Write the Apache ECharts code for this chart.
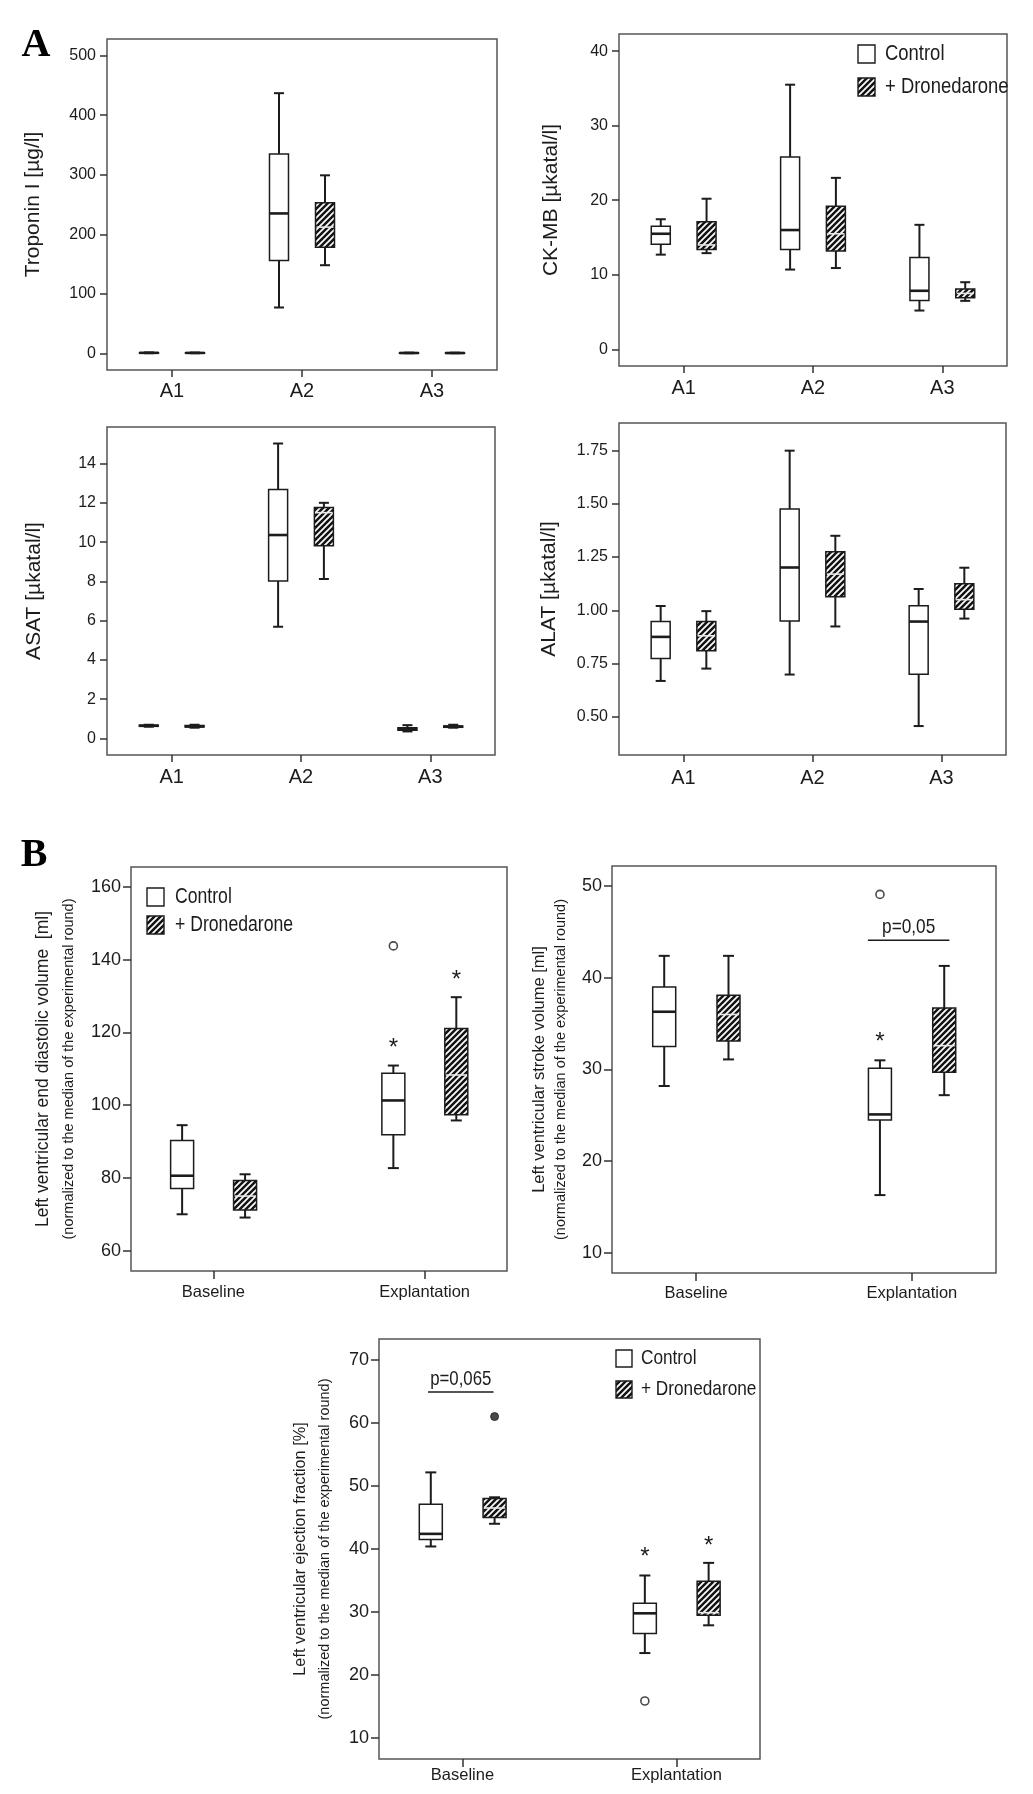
<!DOCTYPE html>
<html>
<head>
<meta charset="utf-8">
<script src="https://cdn.jsdelivr.net/npm/echarts@6/dist/echarts.min.js"></script>
<style>
  html, body { margin: 0; padding: 0; background: #fff; }
  #chart { width: 1033px; height: 1794px; }
</style>
</head>
<body>
<div id="chart"></div>
<script>
// ---------------- DATA ----------------
// Panel A: sampling points
const groupsA = ['A1', 'A2', 'A3'];
// each box: [lower whisker, Q1, median, Q3, upper whisker]
const troponinControl = [[0.2, 0.5, 0.8, 1.1, 1.5], [77, 156, 235, 335, 437], [0.2, 0.4, 0.6, 0.9, 1.2]];
const troponinDrone   = [[0.2, 0.4, 0.7, 1.0, 1.3], [148, 178, 212, 253, 299], [0.2, 0.4, 0.6, 0.8, 1.1]];
const troponinTicks   = [0, 100, 200, 300, 400, 500];

const ckmbControl = [[12.7, 14.1, 15.5, 16.5, 17.45], [10.7, 13.4, 16.0, 25.8, 35.5], [5.2, 6.55, 7.85, 12.3, 16.7]];
const ckmbDrone   = [[12.9, 13.4, 14.0, 17.1, 20.2], [10.9, 13.2, 15.5, 19.2, 23.0], [6.5, 6.9, 7.5, 8.1, 9.0]];
const ckmbTicks   = [0, 10, 20, 30, 40];

const asatControl = [[0.6, 0.62, 0.65, 0.68, 0.7], [5.69, 8.02, 10.36, 12.68, 15.02], [0.36, 0.42, 0.47, 0.55, 0.68]];
const asatDrone   = [[0.55, 0.58, 0.62, 0.66, 0.7], [8.12, 9.81, 11.5, 11.76, 12.0], [0.55, 0.57, 0.6, 0.64, 0.7]];
const asatTicks   = [0, 2, 4, 6, 8, 10, 12, 14];

const alatControl = [[0.668, 0.773, 0.875, 0.947, 1.02], [0.698, 0.95, 1.201, 1.476, 1.75], [0.456, 0.70, 0.947, 1.021, 1.10]];
const alatDrone   = [[0.726, 0.81, 0.88, 0.947, 0.996], [0.924, 1.063, 1.17, 1.275, 1.35], [0.961, 1.005, 1.05, 1.125, 1.20]];
const alatTicks   = [0.5, 0.75, 1.0, 1.25, 1.5, 1.75];

// Panel B: phases
const phasesB = ['Baseline', 'Explantation'];

const edvControl = [[70.0, 77.1, 80.6, 90.3, 94.5], [82.7, 91.9, 101.3, 108.8, 110.9]];
const edvDrone   = [[69.1, 71.2, 75.0, 79.3, 81.0], [95.8, 97.4, 108.3, 121.1, 129.7]];
const edvControlOutliers = [[2, 143.8]];
const edvStars   = [[2, 117.4, 0], [2, 135.9, 1]];   // [phase, value, group 0=control 1=drone]
const edvTicks   = [60, 80, 100, 120, 140, 160];

const svControl = [[28.2, 32.5, 36.3, 39.0, 42.4], [16.3, 24.5, 25.1, 30.15, 31.0]];
const svDrone   = [[31.1, 33.1, 36.0, 38.1, 42.4], [27.2, 29.7, 32.6, 36.7, 41.3]];
const svControlOutliers = [[2, 49.1]];
const svStars   = [[2, 33.6, 0]];
const svBracket = [[1.796, 2.174, 44.1, 'p=0,05']];
const svTicks   = [10, 20, 30, 40, 50];

const efControl = [[40.4, 41.5, 42.4, 47.1, 52.15], [23.5, 26.6, 29.8, 31.4, 35.8]];
const efDrone   = [[44.0, 45.0, 46.5, 48.0, 48.2], [27.9, 29.5, 29.9, 34.9, 37.8]];
const efControlOutliers = [[2, 15.9]];
const efDroneExtremes   = [[1, 61.0]];
const efStars   = [[2, 39.7, 0], [2, 41.4, 1]];
const efBracket = [[0.839, 1.145, 64.9, 'p=0,065']];
const efTicks   = [10, 20, 30, 40, 50, 60, 70];

// ---------------- STYLE ----------------
const REG = '"Liberation Sans", Arial, sans-serif';
const NARROW_SCALE = 0.82;
const INK = '#1c1c1c';

// hatch pattern
function makeHatch() {
  const s = 6;
  const c = document.createElement('canvas');
  c.width = s; c.height = s;
  const g = c.getContext('2d');
  g.fillStyle = '#141414';
  g.fillRect(0, 0, s, s);
  g.strokeStyle = '#ffffff';
  g.lineWidth = 1.7;
  g.beginPath();
  g.moveTo(-1, s + 1); g.lineTo(s + 1, -1);
  g.moveTo(-1, 1); g.lineTo(1, -1);
  g.moveTo(s - 1, s + 1); g.lineTo(s + 1, s - 1);
  g.stroke();
  return { image: c, repeat: 'repeat' };
}
const HATCH = makeHatch();

const chart = echarts.init(document.getElementById('chart'), null, { renderer: 'canvas' });

const grids = [
  { left: 107, top: 39, width: 390, height: 331 },
  { left: 619, top: 34, width: 388, height: 332 },
  { left: 107, top: 427, width: 388, height: 328 },
  { left: 619, top: 423, width: 387, height: 332 },
  { left: 131, top: 867, width: 376, height: 404 },
  { left: 612, top: 866, width: 384, height: 407 },
  { left: 379, top: 1339, width: 381, height: 420 }
];

function boxRenderer(offset, boxW, capW, hatched) {
  return function (params, api) {
    const x = api.value(0) + offset;
    const lo = api.coord([x, api.value(1)]);
    const q1 = api.coord([x, api.value(2)]);
    const md = api.coord([x, api.value(3)]);
    const q3 = api.coord([x, api.value(4)]);
    const hi = api.coord([x, api.value(5)]);
    const cx = lo[0];
    const ws = { stroke: INK, lineWidth: 2 };
    const h = q1[1] - q3[1];
    const children = [
      { type: 'line', shape: { x1: cx, y1: q3[1], x2: cx, y2: hi[1] }, style: ws },
      { type: 'line', shape: { x1: cx, y1: q1[1], x2: cx, y2: lo[1] }, style: ws },
      { type: 'line', shape: { x1: cx - capW / 2, y1: hi[1], x2: cx + capW / 2, y2: hi[1] }, style: ws },
      { type: 'line', shape: { x1: cx - capW / 2, y1: lo[1], x2: cx + capW / 2, y2: lo[1] }, style: ws },
      { type: 'rect', shape: { x: cx - boxW / 2, y: q3[1], width: boxW, height: Math.max(h, 0.5) },
        style: { fill: hatched ? HATCH : '#ffffff', stroke: INK, lineWidth: 1.5 } }
    ];
    if (hatched && h > 6) {
      children.push({ type: 'line', shape: { x1: cx - boxW / 2 + 1, y1: md[1], x2: cx + boxW / 2 - 1, y2: md[1] },
        style: { stroke: '#e8e8e8', lineWidth: 1.6 } });
    } else {
      children.push({ type: 'line', shape: { x1: cx - boxW / 2, y1: md[1], x2: cx + boxW / 2, y2: md[1] },
        style: { stroke: INK, lineWidth: 2.6 } });
    }
    return { type: 'group', children };
  };
}

const xAxes = [], yAxes = [], series = [];

function addPanel(i, cfg) {
  const cats = cfg.cats;
  const catVals = cats.map((c, k) => k + 1);
  xAxes.push({
    type: 'value', gridIndex: i, min: cfg.xMin, max: cfg.xMax,
    axisLine: { show: false, onZero: false },
    splitLine: { show: false },
    axisTick: { show: true, length: cfg.tickLen, customValues: catVals, lineStyle: { color: '#333', width: 1.5 } },
    axisLabel: { show: true, customValues: catVals, formatter: v => cats[Math.round(v) - 1] || '',
      fontSize: cfg.catSize, fontFamily: REG, color: INK, margin: cfg.xMargin }
  });
  yAxes.push({
    type: 'value', gridIndex: i, min: cfg.yMin, max: cfg.yMax,
    axisLine: { show: false, onZero: false },
    splitLine: { show: false },
    axisTick: { show: true, length: cfg.tickLen, customValues: cfg.yTicks, lineStyle: { color: '#333', width: 1.5 } },
    axisLabel: { show: true, customValues: cfg.yTicks, formatter: cfg.yFmt || (v => String(v)),
      fontSize: cfg.tickSize, fontFamily: REG, color: INK, margin: cfg.yMargin },
    name: cfg.yName, nameLocation: 'middle', nameRotate: 90, nameGap: cfg.nameGap,
    nameTextStyle: cfg.nameStyle
  });
  const base = { xAxisIndex: i, yAxisIndex: i, silent: true, animation: false, z: 3 };
  series.push(Object.assign({}, base, {
    type: 'custom', name: 'Control',
    renderItem: boxRenderer(cfg.offC, cfg.boxW, cfg.capW, false),
    encode: { x: 0, y: [1, 2, 3, 4, 5] },
    data: cfg.ctrl.map((b, k) => [k + 1].concat(b))
  }));
  series.push(Object.assign({}, base, {
    type: 'custom', name: '+ Dronedarone',
    renderItem: boxRenderer(cfg.offD, cfg.boxW, cfg.capW, true),
    encode: { x: 0, y: [1, 2, 3, 4, 5] },
    data: cfg.drug.map((b, k) => [k + 1].concat(b))
  }));
  if (cfg.openOut) {
    series.push(Object.assign({}, base, {
      type: 'scatter', symbol: 'circle', symbolSize: 8,
      itemStyle: { color: '#fff', borderColor: INK, borderWidth: 1.6 },
      data: cfg.openOut.map(([c, v]) => [c + cfg.offC, v])
    }));
  }
  if (cfg.filledOut) {
    series.push(Object.assign({}, base, {
      type: 'scatter', symbol: 'circle', symbolSize: 8,
      itemStyle: { color: INK, borderColor: INK, borderWidth: 1 },
      data: cfg.filledOut.map(([c, v]) => [c + cfg.offD, v])
    }));
  }
  if (cfg.stars) {
    series.push(Object.assign({}, base, {
      type: 'custom',
      encode: { x: 0, y: 1 },
      data: cfg.stars,
      renderItem: function (params, api) {
        const off = api.value(2) ? cfg.offD : cfg.offC;
        const p = api.coord([api.value(0) + off, api.value(1)]);
        return { type: 'text', x: p[0], y: p[1] + 6,
          style: { text: '*', fontSize: 24, fontFamily: REG, fill: INK, align: 'center', verticalAlign: 'middle' } };
      }
    }));
  }
  if (cfg.bracket) {
    series.push(Object.assign({}, base, {
      type: 'custom',
      encode: { x: [0, 1], y: 2 },
      data: cfg.bracket,
      renderItem: function (params, api) {
        const a = api.coord([api.value(0), api.value(2)]);
        const b = api.coord([api.value(1), api.value(2)]);
        const label = cfg.bracket[params.dataIndex][3];
        return { type: 'group', children: [
          { type: 'line', shape: { x1: a[0], y1: a[1], x2: b[0], y2: b[1] }, style: { stroke: INK, lineWidth: 1.6 } },
          { type: 'text', x: (a[0] + b[0]) / 2, y: a[1] - 13, scaleX: NARROW_SCALE,
            style: { text: label, fontSize: cfg.pSize, fontFamily: REG, fill: INK, align: 'center', verticalAlign: 'middle' } }
        ] };
      }
    }));
  }
}

const nameA = { fontSize: 21, fontFamily: REG, color: INK };
function nameB(lh, sa) {
  return { rich: {
    a: { fontSize: sa, fontFamily: REG, color: INK, lineHeight: lh },
    b: { fontSize: 14.5, fontFamily: REG, color: INK, lineHeight: lh }
  } };
}
const commonA = { cats: groupsA, xMin: 0.5, xMax: 3.5, offC: -0.177, offD: 0.177, boxW: 19, capW: 10,
  tickLen: 7, tickSize: 16, catSize: 20, yMargin: 11 };
const commonB = { cats: phasesB, xMin: 0.61, xMax: 2.39, offC: -0.148, offD: 0.15, boxW: 23, capW: 11,
  tickLen: 8, tickSize: 18, catSize: 16.5, yMargin: 10, pSize: 21 };

addPanel(0, Object.assign({}, commonA, { yMin: -28, yMax: 528, yTicks: troponinTicks,
  yName: 'Troponin I [µg/l]', nameGap: 63, nameStyle: nameA, xMargin: 11,
  ctrl: troponinControl, drug: troponinDrone }));
addPanel(1, Object.assign({}, commonA, { yMin: -2.24, yMax: 42.3, yTicks: ckmbTicks,
  yName: 'CK-MB [µkatal/l]', nameGap: 57, nameStyle: nameA, xMargin: 12.5,
  ctrl: ckmbControl, drug: ckmbDrone }));
addPanel(2, Object.assign({}, commonA, { yMin: -0.84, yMax: 15.86, yTicks: asatTicks,
  yName: 'ASAT [µkatal/l]', nameGap: 62, nameStyle: nameA, xMargin: 12,
  ctrl: asatControl, drug: asatDrone }));
addPanel(3, Object.assign({}, commonA, { yMin: 0.32, yMax: 1.88, yTicks: alatTicks,
  yFmt: v => v.toFixed(2),
  yName: 'ALAT [µkatal/l]', nameGap: 59, nameStyle: nameA, xMargin: 13,
  ctrl: alatControl, drug: alatDrone }));
addPanel(4, Object.assign({}, commonB, { yMin: 54.4, yMax: 165.5, yTicks: edvTicks,
  yName: '{a|Left ventricular end diastolic volume  [ml]}\n{b|(normalized to the median of the experimental round)}',
  nameGap: 50, nameStyle: nameB(25, 17.5), xMargin: 13,
  ctrl: edvControl, drug: edvDrone, openOut: edvControlOutliers, stars: edvStars }));
addPanel(5, Object.assign({}, commonB, { yMin: 7.8, yMax: 52.2, yTicks: svTicks,
  yName: '{a|Left ventricular stroke volume [ml]}\n{b|(normalized to the median of the experimental round)}',
  nameGap: 40, nameStyle: nameB(22, 16.5), xMargin: 11.5,
  ctrl: svControl, drug: svDrone, openOut: svControlOutliers, stars: svStars, bracket: svBracket }));
addPanel(6, Object.assign({}, commonB, { yMin: 6.7, yMax: 73.3, yTicks: efTicks,
  yName: '{a|Left ventricular ejection fraction [%]}\n{b|(normalized to the median of the experimental round)}',
  nameGap: 42, nameStyle: nameB(24, 16.3), xMargin: 8, pSize: 20.5,
  ctrl: efControl, drug: efDrone, openOut: efControlOutliers, filledOut: efDroneExtremes,
  stars: efStars, bracket: efBracket }));

// legend graphics
function legendBlock(x, yC, yD, w, h, tx, size) {
  const ts = (t, y) => ({ type: 'text', x: tx, y: y, scaleX: NARROW_SCALE,
    style: { text: t, fontSize: size, fontFamily: REG, fill: INK, verticalAlign: 'middle' } });
  return [
    { type: 'rect', shape: { x: x, y: yC, width: w, height: h }, style: { fill: '#fff', stroke: INK, lineWidth: 1.4 } },
    { type: 'rect', shape: { x: x, y: yD, width: w, height: h }, style: { fill: HATCH, stroke: INK, lineWidth: 1.4 } },
    ts('Control', yC + h / 2),
    ts('+ Dronedarone', yD + h / 2)
  ];
}

const graphics = [].concat(
  [
    { type: 'text', x: 36, y: 46, style: { text: 'A', font: 'bold 40px "Liberation Serif", "Times New Roman", serif', fill: '#000', align: 'center', verticalAlign: 'middle' } },
    { type: 'text', x: 34, y: 856, style: { text: 'B', font: 'bold 40px "Liberation Serif", "Times New Roman", serif', fill: '#000', align: 'center', verticalAlign: 'middle' } }
  ],
  legendBlock(858, 45, 78, 17, 18, 885, 22.5),
  legendBlock(147, 888, 916, 17, 18, 175, 21.5),
  legendBlock(616, 1350, 1381, 16, 17, 641, 21)
);

chart.setOption({
  backgroundColor: '#ffffff',
  animation: false,
  grid: grids.map(g => Object.assign({ show: true, borderColor: '#555', borderWidth: 1.5, backgroundColor: 'transparent', containLabel: false }, g)),
  xAxis: xAxes,
  yAxis: yAxes,
  series: series,
  graphic: { elements: graphics }
});
</script>
</body>
</html>
